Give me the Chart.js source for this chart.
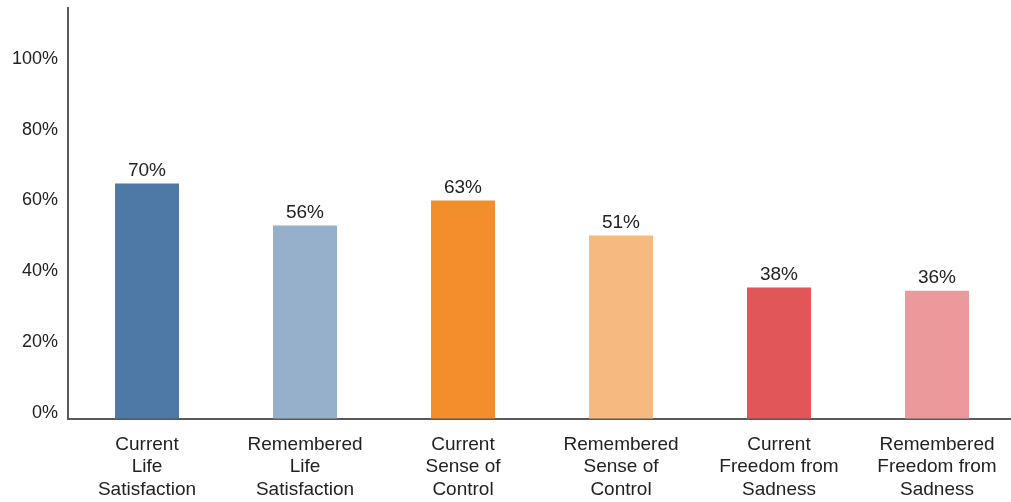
<!DOCTYPE html>
<html lang="en">
<head>
    <meta charset="UTF-8">
    <title>Current vs Remembered</title>
    <script src="https://cdn.jsdelivr.net/npm/chart.js"></script>
    <style>
        body { margin: 0; padding: 0; background: #fff; overflow: hidden; }
        #wrap { width: 1016px; height: 502px; }
    </style>
</head>
<body>

<div id="wrap">
    <canvas id="barChart" width="1016" height="502"></canvas>
</div>

<script>
    const categories = [
        ['Current', 'Life', 'Satisfaction'],
        ['Remembered', 'Life', 'Satisfaction'],
        ['Current', 'Sense of', 'Control'],
        ['Remembered', 'Sense of', 'Control'],
        ['Current', 'Freedom from', 'Sadness'],
        ['Remembered', 'Freedom from', 'Sadness']
    ];
    // bar heights as drawn
    const values = [66.5, 54.6, 61.7, 51.8, 37.1, 36.2];
    // labels printed above the bars
    const valueLabels = ['70%', '56%', '63%', '51%', '38%', '36%'];
    const barColors = ['#4e79a7', '#96afca', '#f28e2b', '#f6ba80', '#e15759', '#eb999b'];

    const fontFamily = '"Liberation Sans", Arial, sans-serif';

    // simple value labels above each bar
    const barLabels = {
        id: 'barLabels',
        afterDatasetsDraw(chart) {
            const ctx = chart.ctx;
            const meta = chart.getDatasetMeta(0);
            ctx.save();
            ctx.font = '19px ' + fontFamily;
            ctx.fillStyle = '#222';
            ctx.textAlign = 'center';
            ctx.textBaseline = 'middle';
            meta.data.forEach((bar, i) => {
                ctx.fillText(valueLabels[i], bar.x, bar.y - 13);
            });
            ctx.restore();
        }
    };

    const ctx = document.getElementById('barChart').getContext('2d');
    new Chart(ctx, {
        type: 'bar',
        data: {
            labels: categories,
            datasets: [{
                data: values,
                backgroundColor: barColors,
                barPercentage: 0.405,
                categoryPercentage: 1
            }]
        },
        options: {
            responsive: false,
            animation: false,
            layout: { padding: { top: 8, bottom: 0, left: 0, right: 0 } },
            plugins: {
                legend: { display: false },
                tooltip: { enabled: false }
            },
            scales: {
                x: {
                    grid: { color: 'transparent', drawTicks: false },
                    border: { display: true, color: '#595959', width: 2 },
                    afterFit(scale) {
                        scale.height = 83;
                        scale.paddingBottom = 0;
                    },
                    ticks: {
                        color: '#222',
                        padding: 14,
                        maxRotation: 0,
                        autoSkip: false,
                        font: { family: fontFamily, size: 19, lineHeight: 1.2 }
                    }
                },
                y: {
                    min: 0,
                    max: 116,
                    grid: { color: 'transparent', drawTicks: false },
                    border: { display: true, color: '#595959', width: 2 },
                    afterFit(scale) {
                        scale.width = 68;
                        scale.paddingTop = 0;
                        scale.paddingBottom = 0;
                    },
                    ticks: {
                        stepSize: 20,
                        color: '#222',
                        padding: 10,
                        labelOffset: -6,
                        font: { family: fontFamily, size: 18 },
                        callback: v => (v % 20 === 0 ? v + '%' : '')
                    }
                }
            }
        },
        plugins: [barLabels]
    });
</script>

</body>
</html>
